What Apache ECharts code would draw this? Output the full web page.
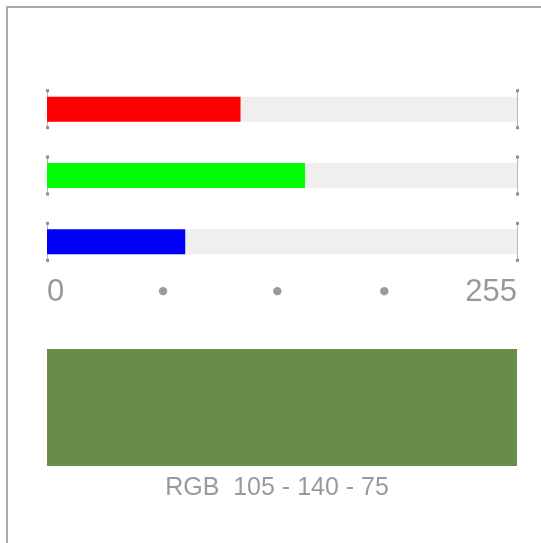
<!DOCTYPE html>
<html>
<head>
<meta charset="utf-8">
<script src="https://cdn.jsdelivr.net/npm/echarts@6/dist/echarts.min.js"></script>
<style>
  html, body { margin: 0; padding: 0; background: #fff; }
  #chart { width: 541px; height: 543px; }
</style>
</head>
<body>
<div id="chart"></div>
<script>
// Colour channels and their values
const channels = ['R', 'G', 'B'];
const channelValues = [105, 140, 75];
const channelColors = ['#ff0000', '#00ff00', '#0000ff'];
const axisMax = 255;
// Positions of the scale labels (ends are numbers, the inner ones are dots)
const tickValues = [0, 63, 125, 183, 255];

const mixed = 'rgb(' + channelValues.join(',') + ')';
const caption = 'RGB  ' + channelValues.join(' - ');

const chart = echarts.init(document.getElementById('chart'));

// End markers: thin vertical line with small square caps at 0 and max
function renderEnds(params, api) {
  const cat = api.value(2);
  const children = [];
  [api.value(0), api.value(1)].forEach(function (v) {
    const p = api.coord([v, cat]);
    const x = Math.round(p[0]) + 0.5, y = p[1];
    children.push({ type: 'line', shape: { x1: x, y1: y - 18, x2: x, y2: y + 18 },
      style: { stroke: '#b8b8b8', lineWidth: 1 } });
    children.push({ type: 'rect', shape: { x: x - 1.5, y: y - 20, width: 3, height: 3 },
      style: { fill: '#8e8e8e' } });
    children.push({ type: 'rect', shape: { x: x - 1.5, y: y + 17, width: 3, height: 3 },
      style: { fill: '#8e8e8e' } });
  });
  return { type: 'group', children: children };
}

chart.setOption({
  animation: false,
  backgroundColor: '#fff',
  textStyle: { fontFamily: 'Liberation Sans, Arial, sans-serif' },
  graphic: [
    { type: 'rect', shape: { x: 6, y: 6, width: 535, height: 2 }, style: { fill: '#aaaaaa' } },
    { type: 'rect', shape: { x: 6, y: 6, width: 2, height: 537 }, style: { fill: '#aaaaaa' } }
  ],
  grid: [
    { left: 47, right: 24, top: 76, height: 199 },
    { left: 47, right: 24, top: 349, height: 117 }
  ],
  xAxis: [
    {
      gridIndex: 0, type: 'value', min: 0, max: axisMax,
      axisLine: { show: false }, axisTick: { show: false }, splitLine: { show: false },
      axisLabel: {
        customValues: tickValues,
        margin: 2,
        alignMinLabel: 'left',
        alignMaxLabel: 'right',
        color: '#999',
        fontSize: 31,
        formatter: function (v) {
          return (v === 0 || v === axisMax) ? String(v) : '{dot|●}';
        },
        rich: { dot: { fontSize: 11, color: '#9a9a9a', verticalAlign: 'middle', lineHeight: 29,
          fontFamily: 'DejaVu Sans' } }
      }
    },
    {
      gridIndex: 1, type: 'value', min: 0, max: axisMax, show: false
    }
  ],
  yAxis: [
    {
      gridIndex: 0, type: 'category', data: channels, inverse: true,
      axisLine: { show: false }, axisTick: { show: false }, axisLabel: { show: false }
    },
    {
      gridIndex: 1, type: 'category', data: [caption], show: false
    }
  ],
  series: [
    {
      type: 'custom',
      xAxisIndex: 0, yAxisIndex: 0,
      renderItem: renderEnds,
      encode: { x: [0, 1], y: 2 },
      data: channels.map(function (c) { return [0, axisMax, c]; }),
      z: 1
    },
    {
      type: 'bar',
      xAxisIndex: 0, yAxisIndex: 0,
      barWidth: 25,
      showBackground: true,
      backgroundStyle: { color: '#efefef' },
      data: channelValues.map(function (v, i) {
        return { value: v, itemStyle: { color: channelColors[i] } };
      }),
      z: 2
    },
    {
      type: 'bar',
      xAxisIndex: 1, yAxisIndex: 1,
      barWidth: '100%',
      data: [{ value: axisMax, itemStyle: { color: mixed } }],
      label: {
        show: true,
        position: 'bottom',
        distance: 10,
        offset: [-5, 0],
        color: '#9a9a9a',
        fontSize: 25,
        formatter: caption
      }
    }
  ]
});
</script>
</body>
</html>
